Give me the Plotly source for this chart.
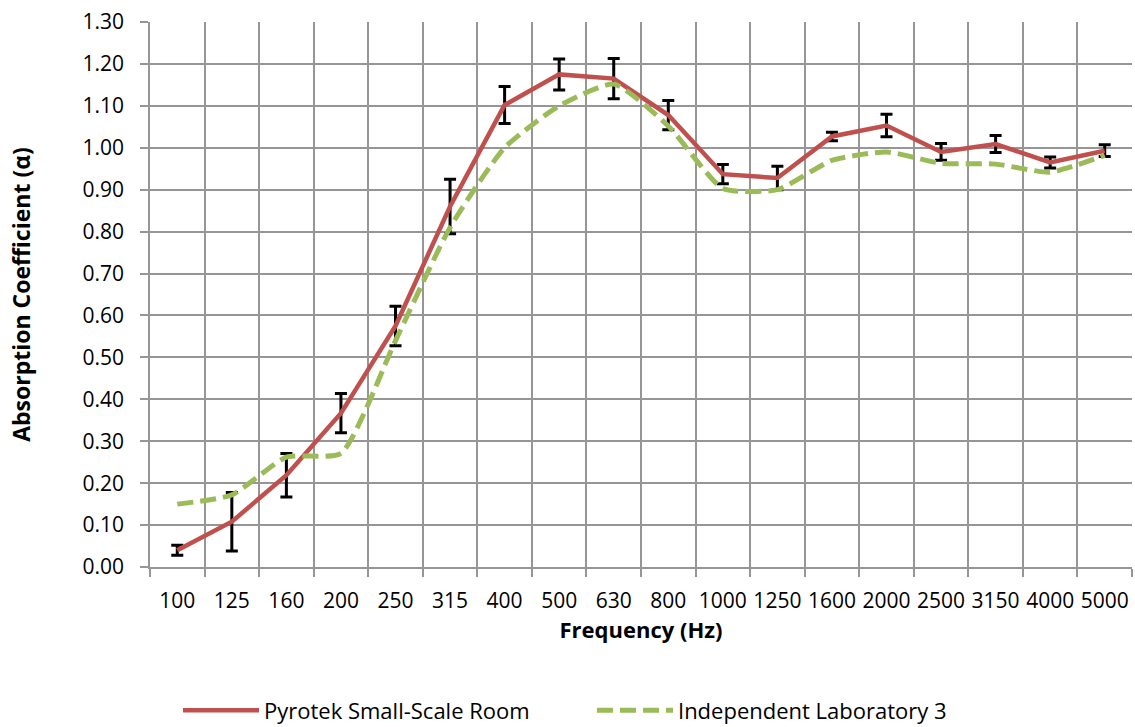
import plotly.graph_objects as go

freqs = ["100", "125", "160", "200", "250", "315", "400", "500", "630", "800",
         "1000", "1250", "1600", "2000", "2500", "3150", "4000", "5000"]
pyrotek = [0.04, 0.108, 0.219, 0.367, 0.575, 0.86, 1.102, 1.175, 1.165, 1.078,
           0.937, 0.928, 1.027, 1.053, 0.99, 1.009, 0.965, 0.993]
pyrotek_err = [0.012, 0.07, 0.052, 0.047, 0.047, 0.065, 0.044, 0.037, 0.048, 0.035,
               0.023, 0.028, 0.01, 0.027, 0.02, 0.02, 0.013, 0.014]
lab3 = [0.15, 0.172, 0.262, 0.271, 0.54, 0.81, 1.0, 1.10, 1.152, 1.052,
        0.903, 0.90, 0.97, 0.99, 0.963, 0.961, 0.942, 0.982]

RED = "#C0504D"
GREEN = "#9BBB59"
GRID = "#969696"
FONT = "Open Sans"

fig = go.Figure()
fig.add_trace(go.Scatter(
    x=freqs, y=pyrotek, mode="lines", name="Pyrotek Small-Scale Room",
    line=dict(color=RED, width=4.5),
    error_y=dict(type="data", array=pyrotek_err, visible=True,
                 color="black", thickness=3, width=6),
))
fig.add_trace(go.Scatter(
    x=freqs, y=lab3, mode="lines", name="Independent Laboratory 3",
    line=dict(color=GREEN, width=5, dash="16px,7px", shape="spline", smoothing=0.55),
))

fig.update_layout(
    width=1135, height=727,
    margin=dict(l=150, r=3, t=22, b=160, autoexpand=False),
    paper_bgcolor="white", plot_bgcolor="white",
    font=dict(family=FONT, size=21, color="black"),
    showlegend=True,
    legend=dict(orientation="h", x=0.0285, xanchor="left", y=-0.263, yanchor="middle",
                font=dict(size=22, family=FONT), itemwidth=76, entrywidth=323,
                traceorder="normal"),
    xaxis=dict(
        type="category", tickson="boundaries", ticks="outside", ticklen=8,
        range=[-0.5, len(freqs) - 0.5],
        tickcolor=GRID, tickwidth=1.5, automargin=False,
        showgrid=True, gridcolor=GRID, gridwidth=1.5,
        showline=True, linecolor=GRID, linewidth=1.5,
        tickangle=0, tickfont=dict(size=21, family=FONT),
        ticklabelstandoff=14,
        title=dict(text="<b>Frequency (Hz)</b>", font=dict(size=22, family=FONT), standoff=8),
    ),
    yaxis=dict(
        range=[0, 1.3], dtick=0.1, tick0=0, tickformat=".2f",
        ticks="outside", ticklen=8, tickcolor=GRID, tickwidth=1.5, automargin=False,
        showgrid=True, gridcolor=GRID, gridwidth=1.5,
        showline=True, linecolor=GRID, linewidth=1.5, zeroline=False,
        tickfont=dict(size=21, family=FONT),
        ticklabelstandoff=12,
        title=dict(text="<b>Absorption Coefficient (α)</b>", font=dict(size=23, family=FONT), standoff=45),
    ),
)

fig.write_html("out.html", config={"displayModeBar": False},
               post_script="document.body.style.margin='0px';")
